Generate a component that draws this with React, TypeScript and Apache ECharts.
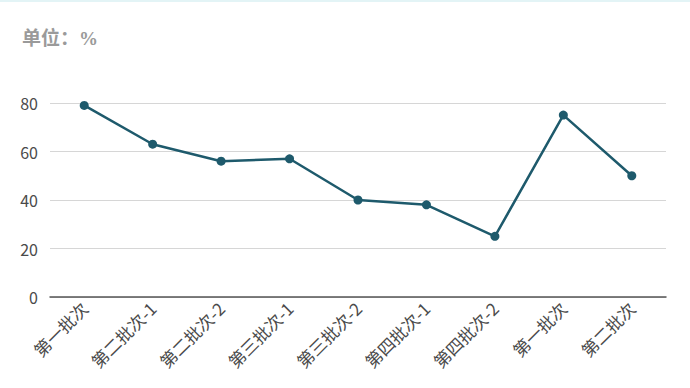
import React, { useEffect, useRef } from "react";
import * as echarts from "echarts";

const categories = ["第一批次", "第二批次-1", "第二批次-2", "第三批次-1", "第三批次-2", "第四批次-1", "第四批次-2", "第一批次", "第二批次"];
const values = [79, 63, 56, 57, 40, 38, 25, 75, 50];
const yTicks = [0, 20, 40, 60, 80];

export default function App() {
  const ref = useRef<HTMLDivElement>(null);
  useEffect(() => {
    const chart = echarts.init(ref.current!, null, { renderer: "svg" });
    chart.setOption({
      animation: false,
      title: {
        text: "单位：%",
        left: 17,
        top: 24,
        textStyle: { color: "#9a9a9a", fontSize: 19, fontWeight: "bold", fontFamily: "'Liberation Serif', 'Noto Sans CJK SC', serif" },
      },
      grid: { left: 50, right: 24, top: 103, bottom: 91 },
      xAxis: {
        type: "category",
        data: categories,
        axisLine: { lineStyle: { color: "#555", width: 1.5 } },
        axisTick: { alignWithLabel: true, lineStyle: { color: "#555" } },
        axisLabel: { rotate: 45, color: "#4a4a4a", fontSize: 17, interval: 0, margin: 8, fontFamily: "Noto Sans CJK SC" },
      },
      yAxis: {
        type: "value",
        min: yTicks[0],
        max: yTicks[yTicks.length - 1],
        interval: 20,
        axisLabel: { color: "#4a4a4a", fontSize: 16, margin: 12, fontFamily: "Noto Sans CJK SC" },
        splitLine: { lineStyle: { color: "#d6d6d6", width: 1.2 } },
        axisLine: { show: false },
        axisTick: { show: false },
      },
      series: [
        {
          type: "line",
          data: values,
          symbol: "circle",
          symbolSize: 9,
          lineStyle: { color: "#1e5a6c", width: 2.5 },
          itemStyle: { color: "#1e5a6c" },
        },
      ],
      graphic: [
        { type: "rect", left: 0, top: 0, shape: { width: 690, height: 2 }, style: { fill: "#e3f4f6" } },
      ],
    });
    return () => chart.dispose();
  }, []);
  return <div ref={ref} style={{ width: 690, height: 388, position: "absolute", left: 0, top: 0 }} />;
}
